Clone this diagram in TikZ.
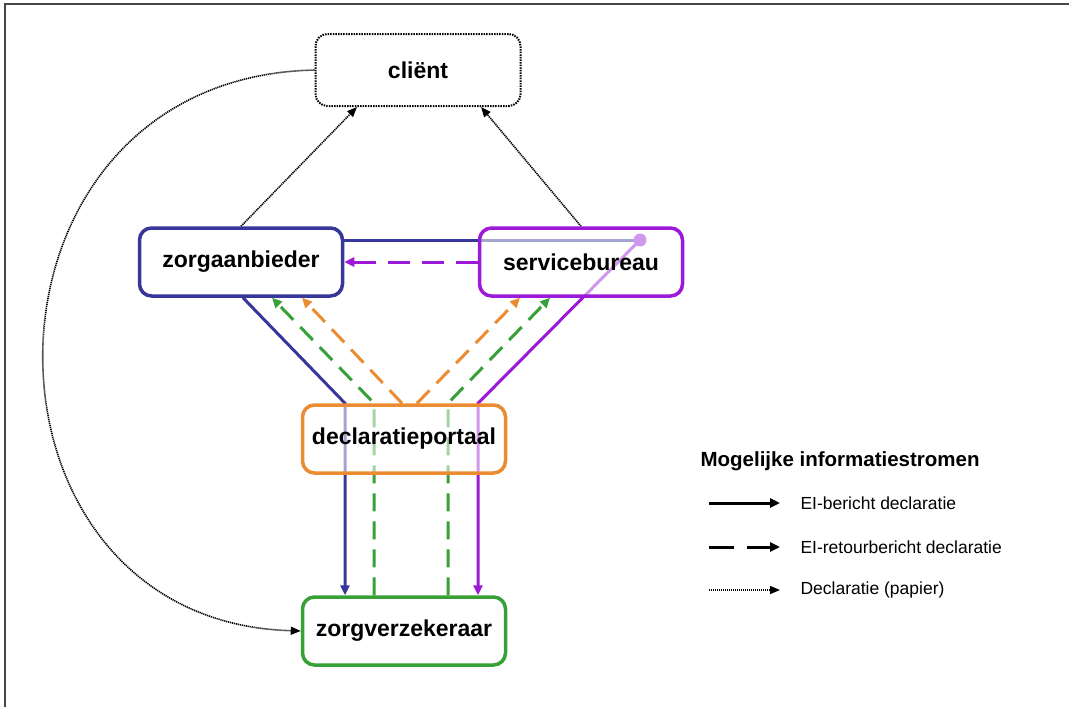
\documentclass[tikz,border=0pt]{standalone}
\usepackage{fontspec}
\setmainfont{Liberation Sans}
\usepackage{tikz}
\usetikzlibrary{positioning}
\usetikzlibrary{backgrounds}
\usetikzlibrary{arrows.meta}
\usepackage{xcolor}

\definecolor{zablue}{RGB}{55,55,155}
\definecolor{sbpurple}{RGB}{155,25,215}
\definecolor{dporange}{RGB}{235,140,50}
\definecolor{zvgreen}{RGB}{55,160,55}
\definecolor{framegray}{RGB}{70,70,70}

\tikzset{
  party/.style={draw, rounded corners=12pt, line width=3.5pt,
    minimum width=203pt, minimum height=68pt,
    fill=white, fill opacity=0.55, text opacity=1,
    font=\fontsize{23}{27}\selectfont\bfseries},
  msg/.style={line width=3pt, -{Triangle[length=10pt,width=9pt]}},
  retour/.style={msg, dash pattern=on 18pt off 10pt},
  paper/.style={line width=1.6pt, dash pattern=on 1.2pt off 0.8pt,
    -{Triangle[length=10pt,width=8pt]}},
  legtext/.style={anchor=west, font=\fontsize{17.5}{21}\selectfont},
}

\begin{document}
\begin{tikzpicture}[x=1pt, y=-1pt]
  \useasboundingbox (0,0) rectangle (1069,707);
  \draw[framegray, line width=2pt] (5,4) rectangle (1090,730);

  % partijen
  \node[party, draw=black, line width=2pt, dash pattern=on 1.5pt off 1.1pt,
        minimum width=205pt, minimum height=72pt] (client) at (418,70) {cliënt};
  \node[party, draw=zablue] (aanbieder) at (241,262) {zorgaanbieder};
  \node[party, draw=sbpurple] (bureau) at (581,262) {servicebureau};
  \node[party, draw=dporange] (portaal) at (404,439) {declaratieportaal};
  \node[party, draw=zvgreen] (verzekeraar) at (404,631) {zorgverzekeraar};

  \coordinate (relay) at ([xshift=59pt,yshift=22pt]bureau.center);

  \begin{scope}[on background layer]
    % EI-berichten
    \draw[msg, zablue] ([xshift=2pt]aanbieder.south) -- ([xshift=-59pt]portaal.north)
      -- ([xshift=-59pt]verzekeraar.north);
    \draw[line width=3pt, zablue] (aanbieder.east |- relay) -- (relay);
    \fill[sbpurple] (relay) circle (6.5pt);
    \draw[msg, sbpurple] (relay) -- ([xshift=74pt]portaal.north)
      -- ([xshift=74pt]verzekeraar.north);
    % retourberichten
    \draw[retour, zvgreen] ([xshift=-30pt]verzekeraar.north) -- ([xshift=-30pt]portaal.north)
      -- ([xshift=31pt]aanbieder.south);
    \draw[retour, zvgreen] ([xshift=44pt]verzekeraar.north) -- ([xshift=44pt]portaal.north)
      -- ([xshift=-31pt]bureau.south);
    \draw[retour, dporange] ([xshift=-2pt]portaal.north) -- ([xshift=61pt]aanbieder.south);
    \draw[retour, dporange] ([xshift=13pt]portaal.north) -- ([xshift=-61pt]bureau.south);
    \draw[msg, sbpurple, dash pattern=on 22pt off 12pt] (bureau.west) -- (aanbieder.east);
    % papier
    \draw[paper] (aanbieder.north) -- ([xshift=-61pt]client.south);
    \draw[paper] (bureau.north) -- ([xshift=63pt]client.south);
    \draw[paper] (client.west) .. controls ([xshift=-358pt,yshift=-8pt]client.west)
      and ([xshift=-345pt,yshift=10pt]verzekeraar.west) .. (verzekeraar.west);
  \end{scope}

  % legenda
  \node[anchor=west, font=\fontsize{20.5}{24}\selectfont\bfseries] (legtitle) at (697,461)
    {Mogelijke informatiestromen};
  \node[legtext] (legsolid) at (797,503) {EI-bericht declaratie};
  \node[legtext] (legdash) at (797,547) {EI-retourbericht declaratie};
  \node[legtext] (legpaper) at (797,590) {Declaratie (papier)};

  \draw[msg, black] ([xshift=-88pt]legsolid.west) -- ([xshift=-17pt]legsolid.west);
  \draw[msg, black, dash pattern=on 25pt off 13pt] ([xshift=-88pt]legdash.west)
    -- ([xshift=-17pt]legdash.west);
  \draw[paper] ([xshift=-88pt]legpaper.west) -- ([xshift=-17pt]legpaper.west);
\end{tikzpicture}
\end{document}
